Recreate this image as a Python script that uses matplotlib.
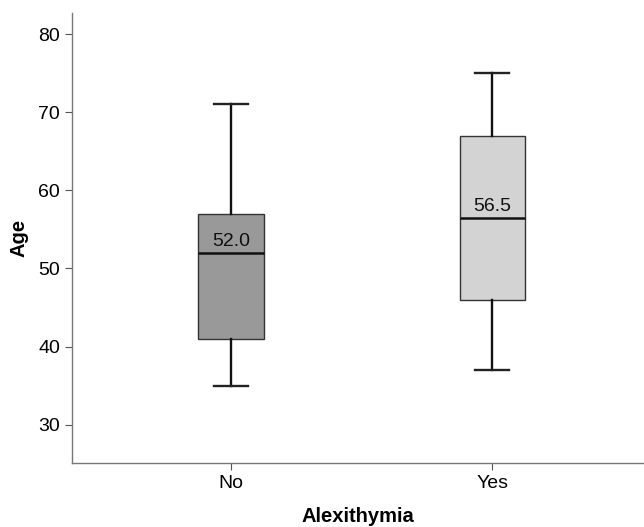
import matplotlib
matplotlib.use("Agg")
import matplotlib.pyplot as plt

categories = ["No", "Yes"]
whisker_low = [35, 37]
q1 = [41, 46]
median = [52.0, 56.5]
q3 = [57, 67]
whisker_high = [71, 75]
box_colors = ["#999999", "#d3d3d3"]
yticks = [30, 40, 50, 60, 70, 80]

plt.rcParams['font.family'] = ['Liberation Sans', 'DejaVu Sans']

fig = plt.figure(figsize=(6.44, 5.27), dpi=100)
ax = fig.add_axes([72/644, 1-463/527, (644-72)/644, (463-13)/527])

stats = []
for i, c in enumerate(categories):
    stats.append(dict(label=c, whislo=whisker_low[i], q1=q1[i], med=median[i],
                      q3=q3[i], whishi=whisker_high[i], fliers=[]))

bp = ax.bxp(stats, positions=[0, 1], widths=0.25, patch_artist=True,
            showfliers=False,
            boxprops=dict(edgecolor="#333333", linewidth=1.0),
            medianprops=dict(color="#111111", linewidth=1.8),
            whiskerprops=dict(color="#111111", linewidth=1.7),
            capprops=dict(color="#222222", linewidth=1.7),
            capwidths=0.13)
for patch, col in zip(bp['boxes'], box_colors):
    patch.set_facecolor(col)

for i, m in enumerate(median):
    ax.text(i, m + 0.4, f"{m:.1f}", ha="center", va="bottom", fontsize=14, color="#111111")

ax.set_xlim(-0.609, 1.58)
ax.set_ylim(25.1, 82.7)
ax.set_yticks(yticks)
ax.set_xticks([0, 1])
ax.set_xticklabels(categories)
ax.tick_params(axis="both", labelsize=14, color="#555555", length=5, direction="out")
for s in ["top", "right"]:
    ax.spines[s].set_visible(False)
for s in ["left", "bottom"]:
    ax.spines[s].set_color("#777777")
    ax.spines[s].set_linewidth(1.0)

ax.set_ylabel("Age", fontsize=14.5, fontweight="bold", labelpad=7)
ax.set_xlabel("Alexithymia", fontsize=14.5, fontweight="bold", labelpad=11)

fig.savefig("out.png", dpi=100, facecolor="white")
